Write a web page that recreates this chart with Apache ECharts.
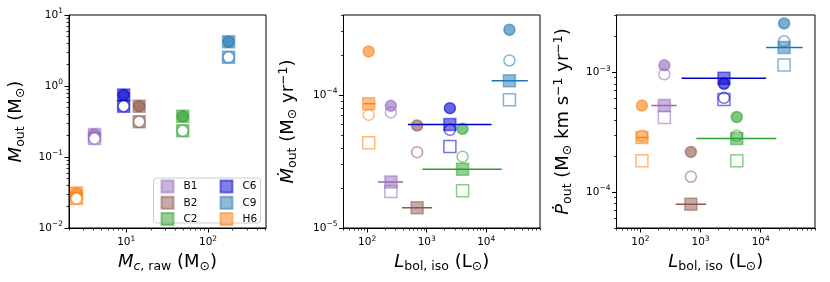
<!DOCTYPE html>
<html><head><meta charset="utf-8">
<script src="https://cdn.jsdelivr.net/npm/echarts@6/dist/echarts.min.js"></script>
<style>html,body{margin:0;padding:0;background:#fff}#c{width:830px;height:282px}</style>
</head><body><div id="c"></div>
<script>
// ---------------- data ----------------
const sources = ['B1', 'B2', 'C2', 'C6', 'C9', 'H6'];
const legendCol1 = ['B1', 'B2', 'C2'];
const legendCol2 = ['C6', 'C9', 'H6'];

// Panel 1: M_out vs M_c,raw
const mcRaw   = [4.1, 14.4, 49, 9.3, 178, 2.47];
const moutHi  = [0.207, 0.52, 0.374, 0.746, 4.2, 0.031];
const moutLo  = [0.182, 0.314, 0.234, 0.52, 2.54, 0.026];

// Panels 2/3: L_bol,iso and its range
const lbol    = [250, 690, 4000, 2450, 24500, 106];
const lbolLo  = [152, 385, 850, 485, 12300, 87];
const lbolHi  = [400, 1230, 18200, 12300, 50000, 137];

// Panel 2: Mdot_out
const mdotFC = [8.3e-5, 5.9e-5, 5.57e-5, 7.97e-5, 3.1e-4, 2.13e-4];   // filled circle
const mdotOC = [7.4e-5, 3.72e-5, 3.44e-5, 5.48e-5, 1.82e-4, 7.1e-5];  // open circle
const mdotFS = [2.22e-5, 1.42e-5, 2.77e-5, 6.0e-5, 1.28e-4, 8.6e-5];  // filled square
const mdotOS = [1.88e-5, null, 1.91e-5, 4.1e-5, 9.2e-5, 4.37e-5];     // open square

// Panel 3: Pdot_out
const pdotFC = [1.14e-3, 2.16e-4, 4.22e-4, 8.0e-4, 2.55e-3, 5.26e-4];
const pdotOC = [9.6e-4, 1.34e-4, 2.94e-4, 6.1e-4, 1.81e-3, 2.95e-4];
const pdotFS = [5.28e-4, 7.9e-5, 2.79e-4, 8.9e-4, 1.61e-3, 2.85e-4];
const pdotOS = [4.18e-4, null, 1.82e-4, 5.9e-4, 1.15e-3, 1.82e-4];

// tick labels (powers of ten)
const xTicks1 = [10, 100];
const yTicks1 = [0.01, 0.1, 1, 10];
const xTicks23 = [100, 1000, 10000];
const yTicks2 = [1e-5, 1e-4];
const yTicks3 = [1e-4, 1e-3];

// ---------------- style ----------------
const FONT = 'DejaVu Sans';
const colors = ['#9467bd', '#8c564b', '#2ca02c', '#0000cd', '#1f77b4', '#ff7f0e'];
function rgba(hex, a) {
  const n = parseInt(hex.slice(1), 16);
  return 'rgba(' + ((n >> 16) & 255) + ',' + ((n >> 8) & 255) + ',' + (n & 255) + ',' + a + ')';
}
function minorTicks(min, max) {
  const out = [];
  for (let k = Math.floor(Math.log10(min)) - 1; k <= Math.ceil(Math.log10(max)); k++) {
    for (let m = 2; m <= 9; m++) {
      const v = m * Math.pow(10, k);
      if (v >= min * 0.999 && v <= max * 1.001) out.push(v);
    }
  }
  return out;
}
function powLabel(v) {
  const e = Math.round(Math.log10(v));
  return '{b|10}{s|' + (e < 0 ? '\u2212' + (-e) : e) + '}';
}
const tickRich = {
  b: { fontFamily: FONT, fontSize: 10.5, lineHeight: 15, color: '#000' },
  s: { fontFamily: FONT, fontSize: 7.5, lineHeight: 8, verticalAlign: 'top', color: '#000' }
};
const nameRich = {
  i: { fontFamily: FONT, fontStyle: 'italic', fontSize: 18, lineHeight: 22, color: '#000' },
  r: { fontFamily: FONT, fontSize: 18, lineHeight: 22, color: '#000' },
  sub: { fontFamily: FONT, fontSize: 12.5, lineHeight: 12, verticalAlign: 'bottom', color: '#000' },
  subi: { fontFamily: FONT, fontStyle: 'italic', fontSize: 12.5, lineHeight: 12, verticalAlign: 'bottom', color: '#000' },
  sup: { fontFamily: FONT, fontSize: 12.5, lineHeight: 12, verticalAlign: 'top', color: '#000' }
};

function axesPair(dim, gridIndex, min, max, majors, name, nameGap) {
  const isX = dim === 'x';
  const base = {
    type: 'log', logBase: 10, gridIndex: gridIndex, min: min, max: max,
    position: isX ? 'bottom' : 'left', offset: 0,
    splitLine: { show: false }, minorSplitLine: { show: false }
  };
  const major = Object.assign({}, base, {
    axisLine: { show: true, lineStyle: { color: '#000', width: 1 } },
    axisTick: { show: true, customValues: majors, length: 4.5, lineStyle: { color: '#000', width: 1 } },
    axisLabel: { show: true, customValues: majors, formatter: powLabel, rich: tickRich, margin: isX ? 7 : 6 },
    name: name, nameLocation: 'middle', nameGap: nameGap, nameRotate: isX ? 0 : 90,
    nameTextStyle: { rich: nameRich, fontFamily: FONT, fontSize: 18, color: '#000' }
  });
  const minor = Object.assign({}, base, {
    axisLine: { show: false },
    axisTick: { show: true, customValues: minorTicks(min, max), length: 2.5, lineStyle: { color: '#000', width: 0.8 } },
    axisLabel: { show: false }
  });
  return [major, minor];
}

const grids = [
  { left: 69, top: 15, width: 197, height: 213 },
  { left: 343.5, top: 15, width: 196.5, height: 213 },
  { left: 616.5, top: 15, width: 198.5, height: 213 }
].map(g => Object.assign(g, { show: true, borderColor: '#000', borderWidth: 1, backgroundColor: 'transparent', containLabel: false, outerBoundsMode: 'none' }));

const xAxes = [].concat(
  axesPair('x', 0, 2, 510, xTicks1, '{i|M}{subi|c}{sub|, raw}{r| (M}{sub|\u2299}{r|)}', 21),
  axesPair('x', 1, 40, 80000, xTicks23, '{i|L}{sub|bol, iso}{r| (L}{sub|\u2299}{r|)}', 21),
  axesPair('x', 2, 40, 80000, xTicks23, '{i|L}{sub|bol, iso}{r| (L}{sub|\u2299}{r|)}', 21)
);
const yAxes = [].concat(
  axesPair('y', 0, 0.01, 10, yTicks1, '{i|M}{sub|out}{r| (M}{sub|\u2299}{r|)}', 42),
  axesPair('y', 1, 1e-5, 4e-4, yTicks2, '{i|\u1E40}{sub|out}{r| (M}{sub|\u2299}{r| yr}{sup|\u22121}{r|)}', 44),
  axesPair('y', 2, 5e-5, 3e-3, yTicks3, '{i|\u1E56}{sub|out}{r| (M}{sub|\u2299}{r| km s}{sup|\u22121}{r| yr}{sup|\u22121}{r|)}', 42)
);

const series = [];
function scatter(name, g, pts, symbol, size, fill, stroke, z) {
  series.push({
    name: name, type: 'scatter', xAxisIndex: 2 * g, yAxisIndex: 2 * g,
    symbol: symbol, symbolSize: size, data: pts, z: z, silent: true,
    itemStyle: { color: fill, borderColor: stroke, borderWidth: 1.5, opacity: 1 }
  });
}
sources.forEach((s, i) => {
  const c = colors[i];
  // Panel 1
  scatter(s, 0, [[mcRaw[i], moutHi[i]], [mcRaw[i], moutLo[i]]], 'rect', 12, rgba(c, 0.5), rgba(c, 0.5), 2);
  scatter(s + '_fc1', 0, [[mcRaw[i], moutHi[i]]], 'circle', 11, rgba(c, 0.6), rgba(c, 0.6), 3);
  scatter(s + '_oc1', 0, [[mcRaw[i], moutLo[i]]], 'circle', 11, '#ffffff', rgba(c, 0.6), 4);
  // Panels 2 & 3
  [[mdotFC, mdotOC, mdotFS, mdotOS], [pdotFC, pdotOC, pdotFS, pdotOS]].forEach((arrs, k) => {
    const g = k + 1;
    const [fc, oc, fs, os] = arrs;
    if (os[i] != null) scatter(s + '_os' + g, g, [[lbol[i], os[i]]], 'rect', 12, 'rgba(255,255,255,0)', rgba(c, 0.55), 2);
    if (fs[i] != null) scatter(s + '_fs' + g, g, [[lbol[i], fs[i]]], 'rect', 12, rgba(c, 0.5), rgba(c, 0.5), 3);
    if (fc[i] != null) scatter(s + '_fc' + g, g, [[lbol[i], fc[i]]], 'circle', 11, rgba(c, 0.6), rgba(c, 0.6), 4);
    if (oc[i] != null) scatter(s + '_oc' + g, g, [[lbol[i], oc[i]]], 'circle', 11, 'rgba(255,255,255,0)', rgba(c, 0.55), 5);
    series.push({
      name: s + '_line' + g, type: 'line', xAxisIndex: 2 * g, yAxisIndex: 2 * g,
      data: [[lbolLo[i], fs[i]], [lbolHi[i], fs[i]]], symbol: 'none', showSymbol: false, silent: true,
      lineStyle: { color: c, width: 1.5 }, z: 6
    });
  });
});

const legendBase = {
  orient: 'vertical', top: 179.5, itemWidth: 12, itemHeight: 12, itemGap: 2.3, icon: 'rect',
  textStyle: { fontFamily: FONT, fontSize: 10.5, color: '#000', padding: [0, 0, 0, 5] },
  selectedMode: false, padding: 0, z: 10
};
const option = {
  animation: false,
  backgroundColor: '#fff',
  grid: grids,
  xAxis: xAxes,
  yAxis: yAxes,
  legend: [
    Object.assign({}, legendBase, { left: 160.5, data: legendCol1 }),
    Object.assign({}, legendBase, { left: 219.5, data: legendCol2 })
  ],
  graphic: [{
    type: 'rect', left: 153, top: 177.5, z: 9,
    shape: { width: 107, height: 45, r: 3 },
    style: { fill: 'rgba(255,255,255,0.8)', stroke: '#cccccc', lineWidth: 1 }
  }],
  series: series
};
const chart = echarts.init(document.getElementById('c'), null, { renderer: 'canvas' });
chart.setOption(option);
</script>
</body></html>
